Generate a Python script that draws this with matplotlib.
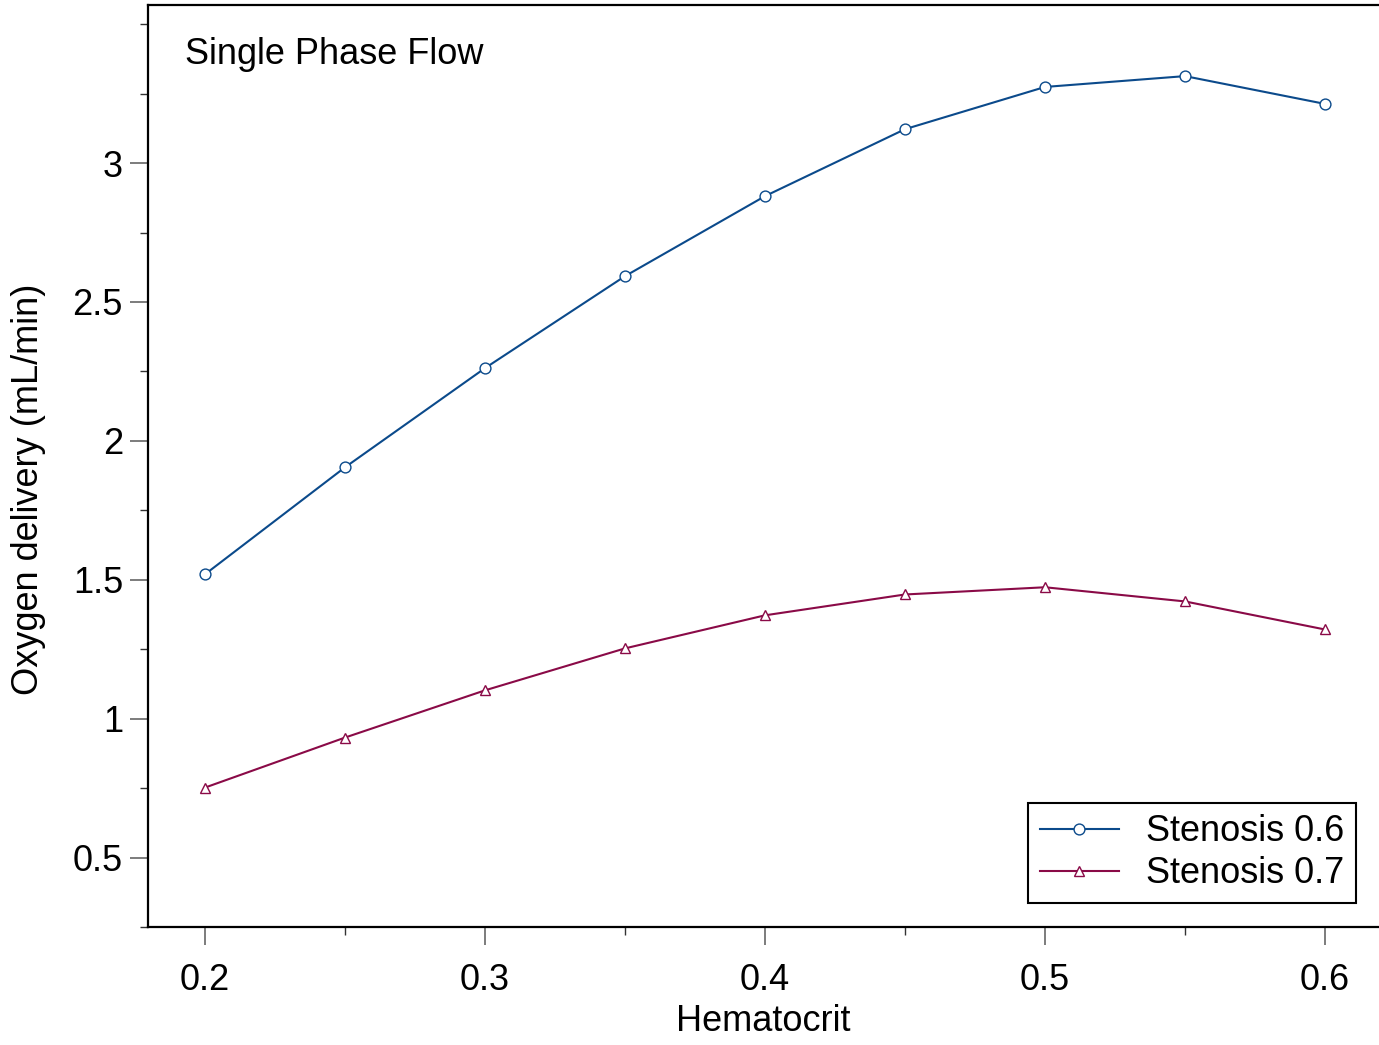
import matplotlib
matplotlib.use("Agg")
import matplotlib.pyplot as plt
from matplotlib.ticker import MultipleLocator, FixedLocator

plt.rcParams['font.family'] = ['Liberation Sans', 'DejaVu Sans']

hematocrit = [0.2, 0.25, 0.3, 0.35, 0.4, 0.45, 0.5, 0.55, 0.6]
stenosis_06 = [1.52, 1.905, 2.262, 2.593, 2.881, 3.122, 3.274, 3.313, 3.213]
stenosis_07 = [0.752, 0.932, 1.102, 1.253, 1.372, 1.447, 1.473, 1.422, 1.321]
labels = ["Stenosis 0.6", "Stenosis 0.7"]
xticks = [0.2, 0.3, 0.4, 0.5, 0.6]
yticks = [0.5, 1, 1.5, 2, 2.5, 3]

blue = '#0b4a8b'
red = '#8a0a47'
FS = 26

fig = plt.figure(figsize=(13.79, 10.45), dpi=100)
ax = fig.add_axes([148/1379, 1-927/1045, (1379-148)/1379, (927-5)/1045])

ax.plot(hematocrit, stenosis_06, color=blue, lw=1.5, marker='o', ms=7.8,
        mfc='white', mec=blue, mew=1.0, label=labels[0])
ax.plot(hematocrit, stenosis_07, color=red, lw=1.5, marker='^', ms=7.8,
        mfc='white', mec=red, mew=1.0, label=labels[1])

ax.set_xlim(0.1796, 0.6193)
ax.set_ylim(0.25, 3.569)

ax.xaxis.set_major_locator(FixedLocator(xticks))
ax.xaxis.set_minor_locator(MultipleLocator(0.05))
ax.yaxis.set_major_locator(FixedLocator(yticks))
ax.yaxis.set_minor_locator(MultipleLocator(0.25))
ax.set_xticklabels([f"{v:g}" for v in xticks])
ax.set_yticklabels([f"{v:g}" for v in yticks])

ax.tick_params(which='major', length=13, width=1.2, color='#666666',
               labelsize=FS)
ax.tick_params(axis='x', which='major', pad=13)
ax.tick_params(axis='y', which='major', pad=5)
ax.tick_params(which='minor', length=6, width=1.0, color='#333333')

for s in ['left', 'bottom', 'top']:
    ax.spines[s].set_linewidth(1.6)
ax.spines['right'].set_visible(False)

ax.set_xlabel("Hematocrit", fontsize=FS, labelpad=4)
ax.set_ylabel("Oxygen delivery (mL/min)", fontsize=FS)
ax.yaxis.set_label_coords((46-148)/1231, (927-489)/922)

fig.text(185/1379, 1-55/1045, "Single Phase Flow", fontsize=FS, va='center', ha='left')

leg = ax.legend(loc='lower right',
                bbox_to_anchor=((1356-148)/(1379-148), (927-903)/922),
                fontsize=FS, frameon=True, fancybox=False, framealpha=1,
                edgecolor='black', handlelength=2.2, handletextpad=0.75,
                borderpad=0.32, labelspacing=0.2, borderaxespad=0)
leg.get_frame().set_linewidth(1.5)

fig.savefig("out.png", dpi=100)
